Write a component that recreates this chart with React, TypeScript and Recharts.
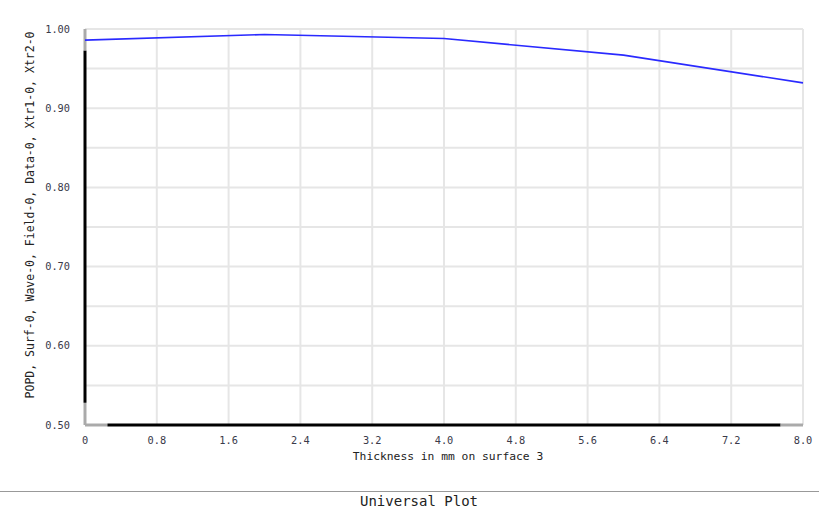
import React from "react";
import { LineChart, Line, XAxis, YAxis, CartesianGrid, ReferenceLine } from "recharts";

const thickness = [0, 2, 4, 6, 8];
const popd = [0.986, 0.993, 0.988, 0.967, 0.932];
const xTicks = [0, 0.8, 1.6, 2.4, 3.2, 4.0, 4.8, 5.6, 6.4, 7.2, 8.0];
const xTickLabels = ["0", "0.8", "1.6", "2.4", "3.2", "4.0", "4.8", "5.6", "6.4", "7.2", "8.0"];
const yTicks = [0.5, 0.55, 0.6, 0.65, 0.7, 0.75, 0.8, 0.85, 0.9, 0.95, 1.0];
const yTickLabels = ["0.50", "", "0.60", "", "0.70", "", "0.80", "", "0.90", "", "1.00"];
const xTitle = "Thickness in mm on surface 3";
const yTitle = "POPD, Surf-0, Wave-0, Field-0, Data-0, Xtr1-0, Xtr2-0";
const chartTitle = "Universal Plot";

const data = thickness.map((t, i) => ({ t, v: popd[i] }));

const mono = "'DejaVu Sans Mono', monospace";
const tickStyle = { fontFamily: mono, fontSize: 10.3, fill: "#3a3a4a" };

export default function App() {
  return (
    <div style={{ position: "absolute", left: 0, top: 0, width: 819, height: 508, background: "#fff" }}>
      <LineChart width={819} height={470} data={data} margin={{ top: 29, right: 16, bottom: 0, left: 0 }}>
        <CartesianGrid stroke="#e6e6e6" strokeWidth={2} />
        <XAxis
          dataKey="t"
          type="number"
          domain={[0, 8]}
          ticks={xTicks}
          tickFormatter={(v: number) => xTickLabels[xTicks.findIndex((x) => Math.abs(x - v) < 1e-6)] ?? ""}
          axisLine={false}
          tickLine={false}
          height={45}
          tick={tickStyle}
          tickMargin={6}
          interval={0}
          label={{
            value: xTitle,
            position: "insideBottom",
            offset: 10,
            dx: 4,
            style: { fontFamily: mono, fontSize: 11.3, fill: "#222" },
          }}
        />
        <YAxis
          type="number"
          domain={[0.5, 1.0]}
          ticks={yTicks}
          tickFormatter={(v: number) => yTickLabels[yTicks.findIndex((x) => Math.abs(x - v) < 1e-6)] ?? ""}
          axisLine={false}
          tickLine={false}
          width={85}
          tick={tickStyle}
          tickMargin={9}
          interval={0}
          label={{
            value: yTitle,
            angle: -90,
            position: "insideLeft",
            offset: 30,
            dy: -12,
            style: { fontFamily: mono, fontSize: 11.5, fill: "#222", textAnchor: "middle" },
          }}
        />
        <ReferenceLine segment={[{ x: 0, y: 0.5 }, { x: 0, y: 0.528 }]} stroke="#aaaaaa" strokeWidth={3} />
        <ReferenceLine segment={[{ x: 0, y: 0.528 }, { x: 0, y: 0.973 }]} stroke="#000" strokeWidth={3} />
        <ReferenceLine segment={[{ x: 0, y: 0.973 }, { x: 0, y: 1.0 }]} stroke="#aaaaaa" strokeWidth={3} />
        <ReferenceLine segment={[{ x: 0, y: 0.5 }, { x: 0.25, y: 0.5 }]} stroke="#aaaaaa" strokeWidth={3} />
        <ReferenceLine segment={[{ x: 0.25, y: 0.5 }, { x: 7.75, y: 0.5 }]} stroke="#000" strokeWidth={3} />
        <ReferenceLine segment={[{ x: 7.75, y: 0.5 }, { x: 8, y: 0.5 }]} stroke="#aaaaaa" strokeWidth={3} />
        <Line
          type="linear"
          dataKey="v"
          stroke="#2a2aff"
          strokeWidth={1.6}
          dot={false}
          isAnimationActive={false}
        />
      </LineChart>
      <div style={{ position: "absolute", left: 0, top: 491, width: 819, height: 1, background: "#999" }} />
      <div
        style={{
          position: "absolute",
          left: 0,
          top: 493,
          width: 838,
          textAlign: "center",
          fontFamily: mono,
          fontSize: 14,
          color: "#222",
          lineHeight: "16px",
        }}
      >
        {chartTitle}
      </div>
    </div>
  );
}
